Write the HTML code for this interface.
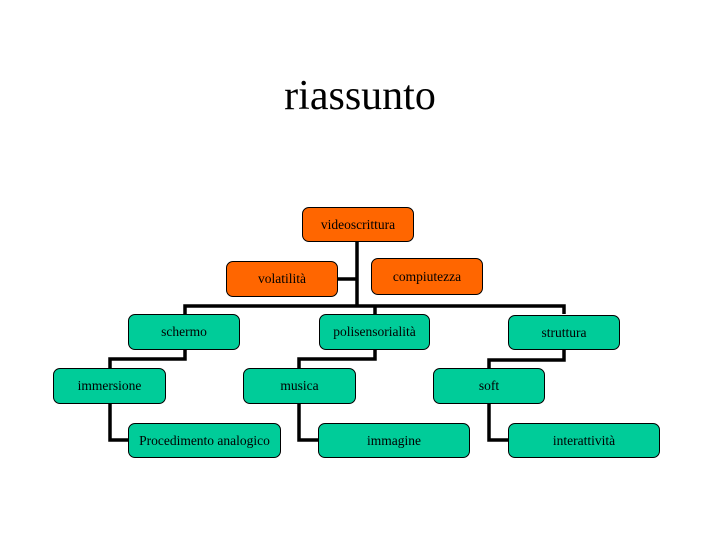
<!DOCTYPE html>
<html><head><meta charset="utf-8"><style>
html,body{margin:0;padding:0;background:#fff}
body{width:720px;height:540px;position:relative;overflow:hidden;font-family:"Liberation Serif",serif}
.t{position:absolute;left:0;width:720px;top:72px;text-align:center;font-size:42px;color:#000}
.b{position:absolute;box-sizing:border-box;border:1.5px solid #000;border-radius:7px;display:flex;align-items:center;justify-content:center;font-size:13.5px;color:#000}
.o{background:#ff6600}.g{background:#00cc99}
</style></head><body>
<div class="t">riassunto</div>
<svg width="720" height="540" style="position:absolute;left:0;top:0">
<g stroke="#000" stroke-width="3.5" fill="none" stroke-linejoin="miter">
<path d="M357 242V306"/><path d="M338 279H357"/>
<path d="M185 314V306H564V314"/><path d="M375 306V314"/>
<path d="M185 350V359H110V368"/><path d="M110 404V440H128"/>
<path d="M375 350V359H299V368"/><path d="M299 404V440H318"/>
<path d="M564 350V360H489V368"/><path d="M489 404V440H508"/>
</g></svg>
<div class="b o" style="left:302px;top:207px;width:112px;height:35px">videoscrittura</div>
<div class="b o" style="left:226px;top:261px;width:112px;height:36px">volatilità</div>
<div class="b o" style="left:371px;top:258px;width:112px;height:37px">compiutezza</div>
<div class="b g" style="left:128px;top:314px;width:112px;height:36px">schermo</div>
<div class="b g" style="left:319px;top:314px;width:111px;height:36px">polisensorialità</div>
<div class="b g" style="left:508px;top:315px;width:112px;height:35px">struttura</div>
<div class="b g" style="left:53px;top:368px;width:113px;height:36px">immersione</div>
<div class="b g" style="left:243px;top:368px;width:113px;height:36px">musica</div>
<div class="b g" style="left:433px;top:368px;width:112px;height:36px">soft</div>
<div class="b g" style="left:128px;top:423px;width:153px;height:35px">Procedimento analogico</div>
<div class="b g" style="left:318px;top:423px;width:152px;height:35px">immagine</div>
<div class="b g" style="left:508px;top:423px;width:152px;height:35px">interattività</div>
</body></html>
